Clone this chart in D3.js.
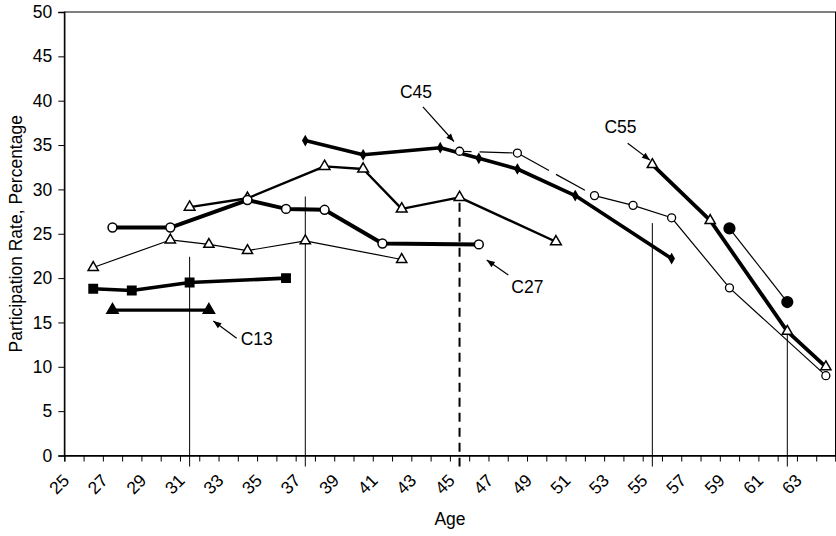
<!DOCTYPE html>
<html><head><meta charset="utf-8">
<script src="https://cdn.jsdelivr.net/npm/d3@7"></script>
<style>body{margin:0;background:#fff}text{font-family:"Liberation Sans",Arial,sans-serif;fill:#000}</style>
</head><body><svg id="c" width="836" height="536"></svg>
<script>
// ---- data ----
const thinTriAges = [26.5,30.5,32.5,34.5,37.5,42.5];
const thinTriVals = [21.2,24.3,23.8,23.1,24.2,22.1];
const c27Ages = [27.5,30.5,34.5,36.5,38.5,41.5,46.5];
const c27Vals = [25.7,25.7,28.8,27.8,27.7,23.9,23.8];
const medTriAges = [31.5,34.5,38.5,40.5,42.5,45.5,50.5];
const medTriVals = [28.0,29.0,32.6,32.3,27.8,29.1,24.1];
const diamondAges = [37.5,40.5,44.5,46.5,48.5,51.5,56.5];
const diamondVals = [35.5,33.9,34.7,33.5,32.3,29.3,22.2];
const c45Ages = [45.5,48.5,52.5,54.5,56.5,59.5,64.5];
const c45Vals = [34.3,34.1,29.3,28.2,26.8,18.9,9.0];
const c55Ages = [55.5,58.5,62.5,64.5];
const c55Vals = [32.8,26.5,14.0,10.0];
const dotAges = [59.5,62.5];
const dotVals = [25.6,17.3];
const squareAges = [26.5,28.5,31.5,36.5];
const squareVals = [18.8,18.6,19.5,20.0];
const c13Ages = [27.5,32.5];
const c13Vals = [16.4,16.4];
const refAges = [31.5,37.5,45.5,55.5,62.5];
const refTops = [22.4,29.2,28.5,26.2,13.6];
const xTickValues = d3.range(25,66,1);
const xLabelValues = d3.range(25,64,2);
const yTickValues = d3.range(0,51,5);
const labelTexts = ["C45","C55","C27","C13"];
const labelAt = [[43.24,40.3],[53.85,36.36],[49.02,18.32],[34.98,12.46]];
const arrowFrom = [[43.6,39.3],[54.22,35.2],[48.03,20.35],[33.94,13.21]];
const arrowTo = [[45.21,35.4],[55.38,33.3],[46.91,22.04],[32.73,15.16]];

const svg = d3.select("#c");
const L=64.3, R=835.5, T=12, B=455.5;
const FS = "17.5px";
const x = d3.scaleLinear().domain([25,65]).range([L,R]);
const y = d3.scaleLinear().domain([0,50]).range([B,T]);

// frame
svg.append("rect").attr("x",L).attr("y",T).attr("width",R-L).attr("height",B-T)
  .attr("fill","none").attr("stroke","#000").attr("stroke-width",1);

// axes
const yAxis = svg.append("g").attr("transform",`translate(${L},0)`)
  .call(d3.axisLeft(y).tickValues(yTickValues).tickSize(6).tickPadding(6).tickFormat(d3.format("d")));
yAxis.selectAll("text").style("font-size",FS).attr("font-family",null);
const xAxis = svg.append("g").attr("transform",`translate(0,${B})`)
  .call(d3.axisBottom(x).tickValues(xTickValues).tickSize(6).tickFormat(""));
[yAxis,xAxis].forEach(g=>{g.select(".domain").attr("stroke","#000").attr("stroke-width",1.3);g.selectAll("line").attr("stroke","#000");});
svg.append("g").selectAll("text").data(xLabelValues).join("text")
  .attr("transform",d=>`translate(${x(d)+6},${B+26}) rotate(-45)`)
  .attr("text-anchor","end").style("font-size",FS).text(d=>d);

svg.append("text").attr("x",450).attr("y",525).attr("text-anchor","middle").style("font-size",FS).text("Age");
svg.append("text").attr("transform",`translate(22,${(T+B)/2}) rotate(-90)`).attr("text-anchor","middle")
  .style("font-size",FS).text("Participation Rate, Percentage");

// reference vertical lines
refAges.forEach((a,i)=>{
  svg.append("line").attr("x1",x(a)).attr("x2",x(a)).attr("y1",y(refTops[i])).attr("y2",B+11)
    .attr("stroke","#000").attr("stroke-width",a===45.5?2:1)
    .attr("stroke-dasharray",a===45.5?"9,6":null);
});

const line = d3.line().x(d=>x(d[0])).y(d=>y(d[1]));
function zip(a,v){return a.map((d,i)=>[d,v[i]]);}
function series(ages,vals,w,sym,size,fill){
  const pts = zip(ages,vals);
  svg.append("path").attr("d",line(pts)).attr("fill","none").attr("stroke","#000")
    .attr("stroke-width",w).attr("stroke-linejoin","round");
  svg.append("g").selectAll("path").data(pts).join("path")
    .attr("transform",d=>`translate(${x(d[0])},${y(d[1])})`)
    .attr("d",d3.symbol().type(sym).size(size)).attr("fill",fill).attr("stroke","#000").attr("stroke-width",1.5);
}
// C45: dashed then solid
(function(){
  const pts = zip(c45Ages,c45Vals);
  svg.append("path").attr("d",line(pts.slice(0,3))).attr("fill","none").attr("stroke","#000")
    .attr("stroke-width",1.2).attr("stroke-dasharray","33,8").attr("stroke-dashoffset",-20);
  svg.append("path").attr("d",line(pts.slice(2))).attr("fill","none").attr("stroke","#000").attr("stroke-width",1.2);
})();
series(thinTriAges,thinTriVals,1.2,d3.symbolTriangle,45,"#fff");
series(medTriAges,medTriVals,2.4,d3.symbolTriangle,50,"#fff");
series(diamondAges,diamondVals,3.6,d3.symbolDiamond,22,"#000");
series(c27Ages,c27Vals,4,d3.symbolCircle,62,"#fff");
series(dotAges,dotVals,1.2,d3.symbolCircle,90,"#000");
series(c55Ages,c55Vals,3.8,d3.symbolTriangle,45,"#fff");
series(squareAges,squareVals,3.6,d3.symbolSquare,70,"#000");
series(c13Ages,c13Vals,3.2,d3.symbolTriangle,55,"#000");
// C45 markers on top
svg.append("g").selectAll("circle").data(zip(c45Ages,c45Vals)).join("circle")
  .attr("cx",d=>x(d[0])).attr("cy",d=>y(d[1])).attr("r",4).attr("fill","#fff").attr("stroke","#000").attr("stroke-width",1.3);

// annotations
svg.append("defs").append("marker").attr("id","ah").attr("viewBox","0 0 10 10").attr("refX",10).attr("refY",5)
  .attr("markerWidth",9).attr("markerHeight",8).attr("markerUnits","userSpaceOnUse").attr("orient","auto")
  .append("path").attr("d","M0,1 L10,5 L0,9 Z").attr("fill","#000");
labelTexts.forEach((t,i)=>{
  svg.append("text").attr("x",x(labelAt[i][0])).attr("y",y(labelAt[i][1])).attr("text-anchor","middle").style("font-size",FS).text(t);
  svg.append("line").attr("x1",x(arrowFrom[i][0])).attr("y1",y(arrowFrom[i][1])).attr("x2",x(arrowTo[i][0])).attr("y2",y(arrowTo[i][1]))
    .attr("stroke","#000").attr("stroke-width",1.2).attr("marker-end","url(#ah)");
});
</script></body></html>
